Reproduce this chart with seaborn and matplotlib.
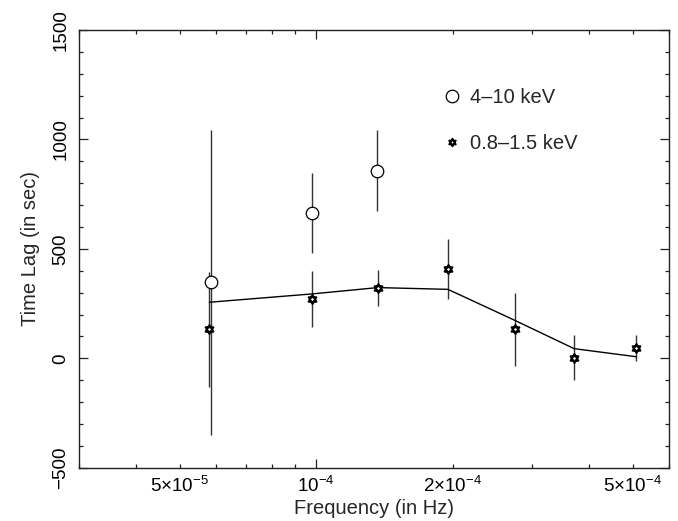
import numpy as np
import matplotlib
matplotlib.use("Agg")
import matplotlib.pyplot as plt
import seaborn as sns
import pandas as pd
from matplotlib.path import Path
from matplotlib.lines import Line2D
from matplotlib.ticker import LogLocator, MultipleLocator, FuncFormatter

# ---- data ----
hard_freq = [5.87e-5, 9.80e-5, 1.365e-4]
hard_lag = [347, 665, 856]
hard_err = [697, 183, 185]

soft_freq = [5.81e-5, 9.78e-5, 1.368e-4, 1.953e-4, 2.74e-4, 3.71e-4, 5.09e-4]
soft_lag = [132, 271, 320, 408, 132, 3, 48]
soft_err = [263, 127, 82, 139, 166, 103, 60]

model_freq = [5.81e-5, 9.78e-5, 1.368e-4, 1.953e-4, 2.74e-4, 3.71e-4, 5.09e-4]
model_lag = [256, 294, 323, 315, 174, 44, 7]

legend_labels = ["4\u201310 keV", "0.8\u20131.5 keV"]
x_label = "Frequency (in Hz)"
y_label = "Time Lag (in sec)"
x_tick_labels = {5e-5: r"$\mathregular{5{\times}10^{-5}}$",
                 1e-4: r"$\mathregular{10^{-4}}$",
                 2e-4: r"$\mathregular{2{\times}10^{-4}}$",
                 5e-4: r"$\mathregular{5{\times}10^{-4}}$"}

# ---- style ----
sns.set_theme(style="ticks")
plt.rcParams["font.family"] = ["Liberation Sans", "DejaVu Sans"]
plt.rcParams["mathtext.fontset"] = "custom"
plt.rcParams["mathtext.rm"] = "Liberation Sans"
plt.rcParams["mathtext.it"] = "Liberation Sans:italic"
plt.rcParams["mathtext.bf"] = "Liberation Sans:bold"

fig = plt.figure(figsize=(6.78, 5.21), dpi=100)
ax = fig.add_axes([0.117, 0.1023, 0.8693, 0.8401])

# hexagram marker
ang_up = np.deg2rad([90, 210, 330, 90])
ang_dn = np.deg2rad([270, 30, 150, 270])
verts = list(zip(np.cos(ang_up), np.sin(ang_up))) + list(zip(np.cos(ang_dn), np.sin(ang_dn)))
codes = [Path.MOVETO, Path.LINETO, Path.LINETO, Path.CLOSEPOLY] * 2
star = Path(verts, codes)

# model line
df_model = pd.DataFrame({"f": model_freq, "lag": model_lag})
sns.lineplot(data=df_model, x="f", y="lag", ax=ax, color="black", lw=1.0,
             estimator=None, sort=False, zorder=2)

# error bars
ax.errorbar(hard_freq, hard_lag, yerr=hard_err, fmt="none", ecolor="#333333",
            elinewidth=1.0, capsize=0, zorder=1)
ax.errorbar(soft_freq, soft_lag, yerr=soft_err, fmt="none", ecolor="#333333",
            elinewidth=1.0, capsize=0, zorder=1)
# markers
ax.plot(hard_freq, hard_lag, ls="none", marker="o", ms=9.0, mfc="white",
        mec="black", mew=0.9, zorder=3)
ax.plot(soft_freq, soft_lag, ls="none", marker=star, ms=6.5, mfc="white",
        mec="black", mew=1.4, zorder=3)

# axes
ax.set_xscale("log")
ax.set_xlim(3e-5, 6e-4)
ax.set_ylim(-500, 1500)
ax.xaxis.set_major_locator(LogLocator(base=10, subs=[1.0]))
ax.xaxis.set_minor_locator(LogLocator(base=10, subs=np.arange(2, 10)))


def fmt_x(v, pos):
    for k, s in x_tick_labels.items():
        if abs(v - k) / k < 1e-3:
            return s
    return ""


ax.xaxis.set_major_formatter(FuncFormatter(fmt_x))
ax.xaxis.set_minor_formatter(FuncFormatter(fmt_x))
ax.yaxis.set_major_locator(MultipleLocator(500))
ax.yaxis.set_minor_locator(MultipleLocator(100))

ax.tick_params(which="both", direction="in", top=True, right=True,
               colors="#222222", labelcolor="black", labelsize=13.5, width=0.9)
ax.tick_params(which="major", length=6.5)
ax.tick_params(which="minor", length=3.0)
ax.tick_params(axis="x", which="both", pad=6)
ax.tick_params(axis="y", which="both", pad=7)
for lbl in ax.get_yticklabels():
    lbl.set_rotation(90)
    lbl.set_va("center")

for sp in ax.spines.values():
    sp.set_color("#222222")
    sp.set_linewidth(1.0)

ax.set_xlabel(x_label, fontsize=14.5, labelpad=2)
ax.set_ylabel(y_label, fontsize=14.5, labelpad=9)

handles = [Line2D([], [], ls="none", marker="o", ms=9.0, mfc="white", mec="black", mew=0.9),
           Line2D([], [], ls="none", marker=star, ms=5.5, mfc="white", mec="black", mew=1.3)]
ax.legend(handles, legend_labels, loc="upper left", bbox_to_anchor=(0.615, 0.868),
          frameon=False, fontsize=14.5, handlelength=1.0, handletextpad=0.4,
          labelspacing=1.35, borderpad=0, borderaxespad=0)

fig.savefig("out.png", dpi=100)
